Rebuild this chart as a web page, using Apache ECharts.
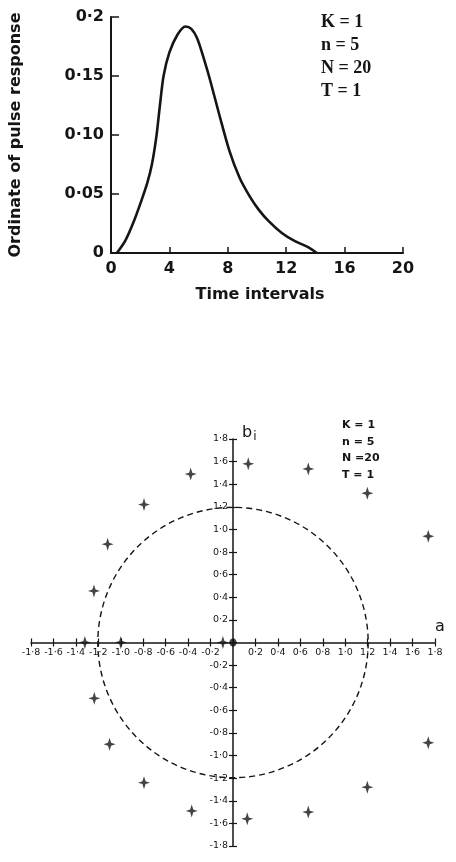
<!DOCTYPE html>
<html>
<head>
<meta charset="utf-8">
<script src="https://cdn.jsdelivr.net/npm/echarts@6/dist/echarts.min.js"></script>
<style>
  html, body { margin: 0; padding: 0; background: #fff; }
  #chart { width: 456px; height: 862px; }
</style>
</head>
<body>
<div id="chart"></div>
<script>
// pulse response curve (top)
var timeValues = [0.4, 1.0, 1.6, 2.1, 2.5, 2.8, 3.1, 3.35, 3.6, 4.0, 4.55, 5.1, 5.5, 5.9, 6.4, 6.8, 7.4, 8.1, 8.8, 9.5, 10.1, 10.8, 11.7, 12.6, 13.5, 14.1]
var ordinates = [0, 0.011, 0.028, 0.045, 0.06, 0.075, 0.098, 0.125, 0.15, 0.17, 0.185, 0.192, 0.19, 0.182, 0.163, 0.146, 0.118, 0.087, 0.064, 0.048, 0.037, 0.027, 0.017, 0.010, 0.005, 0]
var pulseYLabels = { 0: '0', 0.05: '0·05', 0.1: '0·10', 0.15: '0·15', 0.2: '0·2' }

// roots in the a-b plane (bottom)
var rootA = [-0.377, -0.793, -1.117, -1.239, 0.136, 0.671, 1.197, 1.74,
  -1.236, -1.10, -0.793, -0.368, 0.127, 0.671, 1.197, 1.74,
  -1.32, -1.0, -0.09]
var rootB = [1.49, 1.22, 0.87, 0.456, 1.58, 1.535, 1.32, 0.94,
  -0.494, -0.90, -1.24, -1.49, -1.56, -1.50, -1.28, -0.887,
  0, 0, 0]
var originPoint = [0, 0]
var circleRadius = 1.2

var params1 = 'K = 1\nn = 5\nN = 20\nT = 1'
var params2 = 'K = 1\nn = 5\nN =20\nT = 1'

var ink = '#151515'
var star = 'path://M0,-12 L2.6,-2.6 L10,0 L2.6,2.6 L0,12 L-2.6,2.6 L-10,0 L-2.6,-2.6 Z'

// bottom grid: 404 x 407 px, zero in the middle
var midX = -202
var midY = -203.5

function dotLabel(v) {
  if (Math.abs(v) < 1e-9) return ''
  return v.toFixed(1).replace('.', '·')
}

var curveData = timeValues.map(function (t, i) { return [t, ordinates[i]] })
var rootData = rootA.map(function (a, i) { return [a, rootB[i]] })

var myChart = echarts.init(document.getElementById('chart'))

var option = {
  backgroundColor: '#fff',
  animation: false,
  grid: [
    { left: 111, top: 17, width: 292, height: 236 },
    { left: 31, top: 439, width: 404, height: 407 },
  ],
  xAxis: [
    {
      gridIndex: 0,
      type: 'value',
      min: 0,
      max: 20,
      interval: 4,
      name: 'Time intervals',
      nameLocation: 'middle',
      nameGap: 34,
      nameTextStyle: { fontFamily: 'DejaVu Sans', fontWeight: 'bold', fontSize: 16, color: ink, padding: [0, 0, 0, 6] },
      axisLine: { lineStyle: { color: ink, width: 2 } },
      axisTick: { inside: true, length: 6, lineStyle: { color: ink, width: 1.5 } },
      axisLabel: { margin: 8, fontFamily: 'DejaVu Sans', fontWeight: 'bold', fontSize: 16, color: ink },
      splitLine: { show: false },
    },
    {
      gridIndex: 1,
      type: 'value',
      position: 'bottom',
      offset: midY,
      min: -1.8,
      max: 1.8,
      interval: 0.2,
      name: 'a',
      nameLocation: 'end',
      nameGap: 5,
      nameTextStyle: { fontFamily: 'DejaVu Sans', fontSize: 16, color: ink, align: 'center', verticalAlign: 'bottom', padding: [0, 0, 8, 0] },
      axisLine: { onZero: false, lineStyle: { color: ink, width: 1.5 } },
      axisTick: { length: 4, lineStyle: { color: ink, width: 1.2 } },
      axisLabel: { margin: 5, fontFamily: 'DejaVu Sans', fontSize: 9.5, color: ink, formatter: dotLabel },
      splitLine: { show: false },
    },
    {
      gridIndex: 1,
      type: 'value',
      position: 'top',
      offset: midY,
      min: -1.8,
      max: 1.8,
      interval: 0.2,
      axisLine: { onZero: false, show: false },
      axisTick: { length: 4, lineStyle: { color: ink, width: 1.2 } },
      axisLabel: { show: false },
      splitLine: { show: false },
    },
  ],
  yAxis: [
    {
      gridIndex: 0,
      type: 'value',
      min: 0,
      max: 0.2,
      interval: 0.05,
      name: 'Ordinate of pulse response',
      nameLocation: 'middle',
      nameRotate: 90,
      nameGap: 87,
      nameTextStyle: { fontFamily: 'DejaVu Sans', fontWeight: 'bold', fontSize: 16, color: ink },
      axisLine: { show: true, lineStyle: { color: ink, width: 2 } },
      axisTick: { show: true, inside: true, length: 8, lineStyle: { color: ink, width: 1.5 } },
      axisLabel: {
        margin: 7,
        fontFamily: 'DejaVu Sans',
        fontWeight: 'bold',
        fontSize: 16,
        color: ink,
        formatter: function (v) { return pulseYLabels[Math.round(v * 100) / 100] },
      },
      splitLine: { show: false },
    },
    {
      gridIndex: 1,
      type: 'value',
      position: 'left',
      offset: midX,
      min: -1.8,
      max: 1.8,
      interval: 0.2,
      name: '{b|b}{i|i}',
      nameLocation: 'end',
      nameGap: -4,
      nameTextStyle: {
        align: 'left',
        padding: [0, 0, 0, 9],
        rich: {
          b: { fontFamily: 'DejaVu Sans', fontSize: 16, color: ink },
          i: { fontFamily: 'DejaVu Sans', fontSize: 12, color: ink, padding: [8, 0, 0, 1] },
        },
      },
      axisLine: { show: true, onZero: false, lineStyle: { color: ink, width: 1.5 } },
      axisTick: { show: true, length: 4, lineStyle: { color: ink, width: 1.2 } },
      axisLabel: { margin: 5, fontFamily: 'DejaVu Sans', fontSize: 9.5, color: ink, formatter: dotLabel },
      splitLine: { show: false },
    },
    {
      gridIndex: 1,
      type: 'value',
      position: 'right',
      offset: midX,
      min: -1.8,
      max: 1.8,
      interval: 0.2,
      axisLine: { show: false, onZero: false },
      axisTick: { show: true, length: 4, lineStyle: { color: ink, width: 1.2 } },
      axisLabel: { show: false },
      splitLine: { show: false },
    },
  ],
  graphic: [
    {
      type: 'text',
      left: 321,
      top: 11,
      style: { text: params1, font: 'bold 18px "Liberation Serif"', fill: ink, lineHeight: 23 },
    },
    {
      type: 'text',
      left: 342,
      top: 417,
      style: { text: params2, font: 'bold 11px "DejaVu Sans"', fill: ink, lineHeight: 16.5 },
    },
  ],
  series: [
    {
      type: 'line',
      xAxisIndex: 0,
      yAxisIndex: 0,
      data: curveData,
      smooth: 0.3,
      showSymbol: false,
      lineStyle: { color: ink, width: 2.6 },
    },
    {
      type: 'custom',
      xAxisIndex: 1,
      yAxisIndex: 1,
      data: [[0, 0, circleRadius]],
      renderItem: function (params, api) {
        var c = api.coord([api.value(0), api.value(1)])
        var s = api.size([api.value(2), api.value(2)])
        return {
          type: 'circle',
          shape: { cx: c[0], cy: c[1], r: (s[0] + s[1]) / 2 },
          style: { fill: null, stroke: ink, lineWidth: 1.4, lineDash: [6, 4] },
        }
      },
    },
    {
      type: 'scatter',
      xAxisIndex: 1,
      yAxisIndex: 1,
      data: rootData,
      symbol: star,
      symbolSize: [12, 13],
      itemStyle: { color: ink },
    },
    {
      type: 'scatter',
      xAxisIndex: 1,
      yAxisIndex: 1,
      data: [originPoint],
      symbol: 'circle',
      symbolSize: [7, 8],
      itemStyle: { color: ink },
    },
  ],
}

myChart.setOption(option)
</script>
</body>
</html>
